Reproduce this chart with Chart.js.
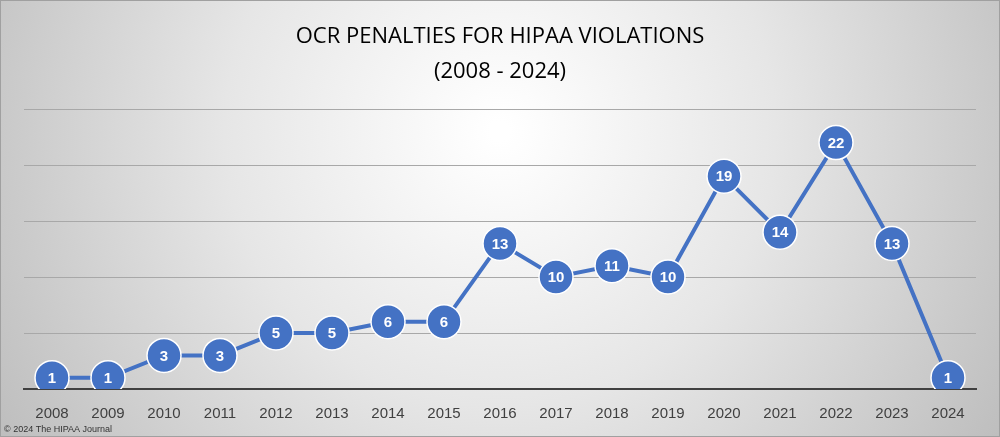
<!DOCTYPE html>
<html><head><meta charset="utf-8">
<script src="https://cdn.jsdelivr.net/npm/chart.js@4/dist/chart.umd.min.js"></script>
<style>html,body{margin:0;padding:0;background:#fff}#w{width:1000px;height:437px;position:relative}</style>
</head><body><div id="w"><canvas id="c"></canvas></div>
<script>
const years = ['2008','2009','2010','2011','2012','2013','2014','2015','2016','2017','2018','2019','2020','2021','2022','2023','2024'];
const penalties = [1,1,3,3,5,5,6,6,13,10,11,10,19,14,22,13,1];
const titleLines = ['OCR PENALTIES FOR HIPAA VIOLATIONS','(2008 - 2024)'];
const copyright = '© 2024 The HIPAA Journal';

const bg = {id:'bg',beforeDraw(ch){const c=ch.ctx,w=ch.width,h=ch.height;c.save();
 const g=c.createRadialGradient(w/2,h*0.3,10,w/2,h*0.3,w*0.6);
 g.addColorStop(0,'#ffffff');g.addColorStop(0.45,'#e6e6e6');g.addColorStop(1,'#bcbcbc');
 c.fillStyle=g;c.fillRect(0,0,w,h);c.strokeStyle='#a0a0a0';c.lineWidth=1;c.strokeRect(0.5,0.5,w-1,h-1);
 c.fillStyle='#000';c.textAlign='center';c.textBaseline='middle';c.font='22px "Open Sans", Arial, sans-serif';
 c.fillText(titleLines[0],w/2,37);c.fillText(titleLines[1],w/2,72);
 c.font='9px "Liberation Sans", Arial, sans-serif';c.textAlign='left';c.fillStyle='#333';c.fillText(copyright,4,430);
 c.restore();}};
const labels = {id:'lbl',afterDatasetsDraw(ch){const c=ch.ctx;const m=ch.getDatasetMeta(0);c.save();
 c.fillStyle='#fff';c.font='bold 15px "Liberation Sans", Arial, sans-serif';c.textAlign='center';c.textBaseline='middle';
 m.data.forEach((p,i)=>c.fillText(String(penalties[i]),p.x,p.y+1));c.restore();}};

new Chart(document.getElementById('c'),{type:'line',
 data:{labels:years,datasets:[{data:penalties,borderColor:'#4472C4',borderWidth:4,backgroundColor:'#4472C4',
  pointRadius:17,pointHoverRadius:17,pointBorderColor:'#ffffff',pointBorderWidth:1.5,tension:0}]},
 options:{responsive:true,maintainAspectRatio:false,animation:false,
  layout:{padding:{top:109,left:24,right:24,bottom:6}},
  plugins:{legend:{display:false},tooltip:{enabled:false}},
  scales:{
   x:{offset:true,grid:{display:false},border:{color:'#404040',width:2},
      ticks:{color:'#404040',font:{size:15,family:'"Liberation Sans", Arial, sans-serif'},padding:8}},
   y:{min:0,max:25,ticks:{stepSize:5,display:false},border:{display:false},
      grid:{color:'#a8a8a8',lineWidth:1,drawTicks:false}}}},
 plugins:[bg,labels]});
</script></body></html>
